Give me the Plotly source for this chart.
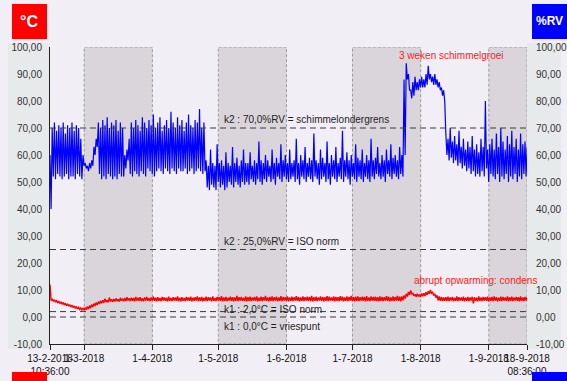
import numpy as np
import pandas as pd
import plotly.graph_objects as go

# ---------------- data (daily high / low readings from the logger) ----------------
start = pd.Timestamp("2018-02-13 10:36:00")
end = pd.Timestamp("2018-09-18 08:36:00")

rh_hi = [
    60, 70, 72, 69, 71, 70, 72, 68, 71, 70,      # d0-9
    72, 69, 71, 70, 66, 60, 57, 56, 57, 58,      # d10-19
    63, 66, 72, 70, 73, 71, 74, 70, 72, 71,      # d20-29
    73, 69, 72, 70, 60, 62, 66, 72, 70, 73,      # d30-39
    71, 69, 74, 72, 70, 73, 71, 75, 70, 72,      # d40-49
    74, 69, 71, 73, 70, 76, 72, 70, 74, 71,      # d50-59
    73, 69, 72, 75, 71, 70, 73, 72, 77, 70,      # d60-69
    72, 58, 56, 62, 57, 56, 64, 57, 58, 56,      # d70-79
    61, 57, 56, 63, 57, 59, 56, 58, 62, 57,      # d80-89
    57, 61, 56, 58, 57, 65, 58, 57, 60, 58,      # d90-99
    56, 62, 57, 59, 57, 64, 58, 60, 57, 62,      # d100-109
    57, 58, 66, 57, 60, 58, 63, 57, 59, 58,      # d110-119
    68, 58, 57, 62, 59, 57, 65, 57, 60, 58,      # d120-129
    63, 57, 59, 69, 58, 61, 58, 60, 57, 64,      # d130-139
    59, 58, 62, 57, 60, 58, 66, 58, 59, 63,      # d140-149
    57, 60, 58, 62, 58, 64, 59, 60, 58, 63,      # d150-159
    60, 88, 94, 90, 84, 87, 89, 87, 88, 89,      # d160-169
    88, 90, 93, 90, 89, 90, 88, 87, 85, 84,      # d170-179
    68, 66, 70, 65, 67, 64, 69, 63, 66, 62,      # d180-189
    65, 63, 67, 62, 64, 61, 66, 63, 80, 62,      # d190-199
    64, 66, 62, 68, 63, 70, 65, 62, 67, 64,      # d200-209
    69, 63, 66, 62, 68, 64, 65, 63,              # d210-217
]
rh_lo = [
    40, 52, 51, 53, 52, 51, 52, 53, 51, 52,
    52, 51, 53, 52, 51, 56, 55, 54, 55, 56,
    60, 63, 53, 51, 52, 51, 53, 52, 51, 52,
    51, 53, 52, 52, 55, 58, 53, 52, 54, 53,
    52, 54, 53, 52, 55, 54, 53, 52, 54, 55,
    54, 53, 55, 54, 53, 55, 54, 53, 55, 54,
    54, 55, 53, 54, 55, 53, 54, 55, 54, 53,
    54, 48, 47, 49, 48, 47, 50, 48, 49, 47,
    48, 50, 49, 48, 50, 49, 48, 50, 49, 50,
    49, 51, 50, 49, 51, 50, 49, 51, 50, 52,
    50, 51, 49, 52, 51, 50, 52, 51, 50, 51,
    52, 50, 51, 49, 52, 51, 50, 52, 51, 50,
    52, 51, 49, 51, 52, 50, 51, 49, 52, 51,
    50, 52, 51, 50, 52, 51, 49, 52, 51, 50,
    52, 51, 50, 52, 51, 50, 52, 51, 53, 52,
    51, 52, 50, 53, 52, 51, 53, 52, 51, 53,
    52, 60, 88, 84, 81, 82, 84, 84, 85, 85,
    85, 86, 88, 87, 86, 86, 85, 84, 82, 80,
    60, 58, 59, 57, 58, 56, 57, 55, 56, 54,
    55, 53, 54, 52, 53, 52, 54, 52, 55, 50,
    53, 52, 51, 53, 50, 52, 51, 53, 50, 52,
    51, 53, 50, 52, 51, 53, 52, 51,
]
t_hi = [
    12.0, 6.8, 6.4, 6.2, 5.9, 5.6, 5.4, 5.1, 4.9, 4.6,
    4.4, 4.1, 3.9, 3.6, 3.4, 3.2, 3.5, 3.9, 4.2, 4.6,
    5.0, 5.4, 5.7, 6.0, 6.2, 6.8, 6.3, 7.2, 6.5, 6.7,
    6.9, 6.6, 7.1, 6.8, 7.0, 7.3, 6.9, 7.1, 7.0, 7.4,
    7.1, 7.3, 6.9, 7.2, 7.4, 7.0, 7.2, 7.5, 7.1, 7.3,
    7.0, 7.4, 7.2, 7.1, 7.5, 7.0, 7.3, 7.2, 7.6, 7.1,
    7.3, 7.0, 7.4, 7.2, 7.5, 7.1, 7.3, 7.6, 7.2, 7.4,
    7.1, 7.5, 7.3, 7.2, 7.6, 7.0, 7.4, 7.3, 7.7, 7.2,
    7.4, 7.1, 7.5, 7.3, 7.2, 7.8, 7.3, 7.4, 7.1, 7.6,
    7.3, 7.5, 7.2, 7.4, 7.6, 7.1, 7.5, 7.3, 7.8, 7.2,
    7.4, 7.6, 7.3, 7.5, 7.2, 7.7, 7.4, 7.3, 7.6, 7.2,
    7.5, 7.3, 7.7, 7.4, 7.2, 7.6, 7.3, 7.5, 7.4, 7.8,
    7.3, 7.5, 7.2, 7.6, 7.4, 7.3, 7.7, 7.5, 7.2, 7.6,
    7.4, 7.3, 7.7, 7.5, 7.2, 7.6, 7.4, 7.8, 7.3, 7.5,
    7.6, 7.3, 7.5, 7.4, 7.7, 7.2, 7.6, 7.4, 7.5, 7.3,
    7.6, 7.4, 7.3, 7.7, 7.5, 7.2, 7.6, 7.4, 7.8, 7.5,
    7.6, 8.0, 8.6, 9.3, 9.8, 8.9, 8.4, 8.6, 8.3, 8.7,
    8.8, 9.2, 9.6, 10.0, 9.2, 8.6, 8.0, 7.6, 7.4, 7.2,
    7.3, 7.5, 7.2, 7.4, 7.1, 7.6, 7.3, 7.2, 7.5, 7.1,
    7.4, 7.2, 7.5, 7.3, 7.1, 7.6, 7.2, 7.4, 7.3, 7.5,
    7.2, 7.4, 7.6, 7.3, 7.1, 7.5, 7.4, 7.2, 7.6, 7.3,
    7.5, 7.2, 7.4, 7.3, 7.6, 7.2, 7.4, 7.3,
]
t_lo = [
    6.0, 5.8, 5.5, 5.2, 5.0, 4.7, 4.5, 4.2, 4.0, 3.7,
    3.5, 3.2, 3.0, 2.8, 2.6, 2.5, 2.7, 3.0, 3.3, 3.7,
    4.1, 4.5, 4.8, 5.1, 5.3, 5.5, 5.4, 5.8, 5.6, 5.7,
    5.9, 5.7, 6.0, 5.8, 5.9, 6.1, 5.9, 6.0, 5.8, 6.1,
    6.0, 5.9, 5.8, 6.1, 6.0, 5.9, 6.1, 6.0, 5.8, 6.0,
    5.9, 6.1, 6.0, 5.8, 6.0, 5.9, 6.1, 6.0, 5.9, 5.8,
    6.0, 5.9, 6.1, 6.0, 5.8, 6.0, 6.1, 5.9, 6.0, 5.8,
    6.0, 5.9, 6.1, 5.8, 6.0, 5.9, 6.1, 6.0, 5.8, 6.0,
    5.9, 6.1, 6.0, 5.8, 6.0, 5.9, 6.1, 6.0, 5.9, 5.8,
    6.0, 5.9, 6.1, 6.0, 5.8, 6.0, 5.9, 6.1, 6.0, 5.8,
    6.0, 5.9, 6.1, 5.8, 6.0, 5.9, 6.1, 6.0, 5.8, 6.0,
    5.9, 6.1, 6.0, 5.8, 6.0, 5.9, 6.1, 6.0, 5.9, 5.8,
    6.0, 5.9, 6.1, 6.0, 5.8, 6.0, 5.9, 6.1, 6.0, 5.8,
    6.0, 5.9, 6.1, 5.8, 6.0, 5.9, 6.1, 6.0, 5.8, 6.0,
    5.9, 6.1, 6.0, 5.8, 6.0, 5.9, 6.1, 6.0, 5.9, 5.8,
    6.0, 5.9, 6.1, 6.0, 5.8, 6.0, 5.9, 6.1, 6.0, 5.8,
    6.2, 6.8, 7.6, 8.2, 8.4, 7.8, 7.5, 7.6, 7.4, 7.7,
    7.8, 8.2, 8.6, 8.8, 8.0, 7.2, 6.2, 6.0, 5.9, 6.0,
    6.0, 5.9, 6.1, 5.8, 6.0, 5.9, 6.1, 6.0, 5.8, 6.0,
    5.9, 6.1, 5.0, 6.0, 5.8, 6.0, 5.9, 6.1, 6.0, 5.8,
    6.0, 5.9, 6.1, 5.8, 6.0, 5.9, 6.1, 6.0, 5.8, 6.0,
    5.9, 6.1, 6.0, 5.8, 6.0, 5.9, 6.1, 6.0,
]

tick_dates = ["2018-02-13 10:36", "2018-03-01", "2018-04-01", "2018-05-01", "2018-06-01",
              "2018-07-01", "2018-08-01", "2018-09-01", "2018-09-18 08:36"]
tick_labels = ["13-2-2018<br>10:36:00", "1-3-2018", "1-4-2018", "1-5-2018", "1-6-2018",
               "1-7-2018", "1-8-2018", "1-9-2018", "18-9-2018<br>08:36:00"]
band_starts = ["2018-03-01", "2018-05-01", "2018-07-01", "2018-09-01"]
band_ends = ["2018-04-01", "2018-06-01", "2018-08-01", "2018-09-18 08:36"]
y_ticks = [-10, 0, 10, 20, 30, 40, 50, 60, 70, 80, 90, 100]
y_labels = ["-10,00", "0,00", "10,00", "20,00", "30,00", "40,00", "50,00",
            "60,00", "70,00", "80,00", "90,00", "100,00"]
ref_levels = [70, 25, 2, 0]


def interleave(hi, lo):
    n = min(len(hi), len(lo))
    xs, ys = [], []
    for i in range(n):
        xs.append(start + pd.Timedelta(hours=24 * i))
        ys.append(hi[i])
        xs.append(start + pd.Timedelta(hours=24 * i + 12))
        ys.append(lo[i])
    return xs, ys


rx, ry = interleave(rh_hi, rh_lo)
tx, ty = interleave(t_hi, t_lo)

FONT = "Arial, Liberation Sans, sans-serif"
BG = "#F2EEF5"

fig = go.Figure()
fig.add_trace(go.Scatter(x=tx, y=ty, mode="lines", line=dict(color="#FF0000", width=1.4),
                         yaxis="y", hoverinfo="skip", showlegend=False))
fig.add_trace(go.Scatter(x=rx, y=ry, mode="lines", line=dict(color="#0000FF", width=1.2),
                         yaxis="y2", hoverinfo="skip", showlegend=False))

shapes = []
# side panels
shapes.append(dict(type="rect", xref="paper", yref="paper", x0=-0.088, x1=-0.002, y0=-0.017, y1=1.0135,
                   fillcolor="#E6EAEA", line=dict(width=0), layer="below"))
shapes.append(dict(type="rect", xref="paper", yref="paper", x0=1.0, x1=1.071, y0=-0.017, y1=1.0135,
                   fillcolor="#E6EAEA", line=dict(width=0), layer="below"))
# month bands
for s, e in zip(band_starts, band_ends):
    shapes.append(dict(type="rect", xref="x", yref="y", x0=s, x1=e, y0=-10, y1=100,
                       fillcolor="#DAD5DB", line=dict(color="#9A9A9A", width=1, dash="3px,2px"),
                       layer="below"))
# reference levels
for lv in ref_levels:
    shapes.append(dict(type="line", xref="paper", yref="y", x0=0, x1=1, y0=lv, y1=lv,
                       line=dict(color="#3A3A3A", width=1, dash="6px,4px"), layer="above"))
# unit boxes
shapes.append(dict(type="rect", xref="paper", yref="paper", x0=-0.0797, x1=-0.0063, y0=1.027, y1=1.145,
                   fillcolor="#FF0000", line=dict(width=0)))
shapes.append(dict(type="rect", xref="paper", yref="paper", x0=1.0105, x1=1.084, y0=1.027, y1=1.145,
                   fillcolor="#0000FF", line=dict(width=0)))
shapes.append(dict(type="rect", xref="paper", yref="paper", x0=-0.0797, x1=-0.0063, y0=-0.13, y1=-0.0943,
                   fillcolor="#FF0000", line=dict(width=0)))
shapes.append(dict(type="rect", xref="paper", yref="paper", x0=1.0105, x1=1.084, y0=-0.13, y1=-0.0943,
                   fillcolor="#0000FF", line=dict(width=0)))

ann = []
txt = dict(family=FONT, size=10, color="#1E1E1E")
red = dict(family=FONT, size=10, color="#FF2020")
ann.append(dict(xref="paper", yref="y", x=0.3606, y=70, text="k2 : 70,0%RV = schimmelondergrens",
                xanchor="left", yanchor="bottom", yshift=1, showarrow=False, font=txt))
ann.append(dict(xref="paper", yref="y", x=0.3606, y=25, text="k2 : 25,0%RV = ISO norm",
                xanchor="left", yanchor="bottom", yshift=1, showarrow=False, font=txt))
ann.append(dict(xref="paper", yref="y", x=0.3606, y=2, text="k1 : 2,0°C = ISO norm",
                xanchor="left", yanchor="middle", yshift=2, showarrow=False, font=txt))
ann.append(dict(xref="paper", yref="y", x=0.3606, y=0, text="k1 : 0,0°C = vriespunt",
                xanchor="left", yanchor="top", yshift=-2, showarrow=False, font=txt))
ann.append(dict(xref="paper", yref="y", x=0.8407, y=96.7, text="3 weken schimmelgroei",
                xanchor="center", yanchor="middle", showarrow=False, font=red))
ann.append(dict(xref="paper", yref="y", x=0.759, y=13.7, text="abrupt opwarming: condens",
                xanchor="left", yanchor="middle", showarrow=False, font=red))
ann.append(dict(xref="paper", yref="paper", x=-0.043, y=1.086, text="<b>°C</b>",
                xanchor="center", yanchor="middle", showarrow=False,
                font=dict(family=FONT, size=16, color="white")))
ann.append(dict(xref="paper", yref="paper", x=1.047, y=1.086, text="<b>%RV</b>",
                xanchor="center", yanchor="middle", showarrow=False,
                font=dict(family=FONT, size=12, color="white")))

fig.update_layout(
    width=567, height=381,
    margin=dict(l=50, r=40, t=47, b=37, autoexpand=False),
    paper_bgcolor=BG, plot_bgcolor=BG,
    font=dict(family=FONT, size=10, color="#222"),
    shapes=shapes, annotations=ann, showlegend=False,
    xaxis=dict(type="date", range=[start, end], tickvals=tick_dates, ticktext=tick_labels,
               showgrid=False, zeroline=False, showline=True, linecolor="#222", linewidth=1,
               ticks="outside", ticklen=5, tickcolor="#222", tickangle=0, automargin=False,
               tickfont=dict(family=FONT, size=10, color="#111")),
    yaxis=dict(range=[-10, 100], tickvals=y_ticks, ticktext=y_labels, showgrid=False,
               zeroline=False, showline=True, linecolor="#222", linewidth=1, ticks="",
               automargin=False,
               ticklabelstandoff=5, tickfont=dict(family=FONT, size=10, color="#333")),
    yaxis2=dict(range=[-10, 100], overlaying="y", side="right", tickvals=y_ticks, ticktext=y_labels,
                showgrid=False, zeroline=False, showline=False, ticks="", automargin=False,
                ticklabelstandoff=8, tickfont=dict(family=FONT, size=10, color="#333")),
)

fig.write_html("out.html")
